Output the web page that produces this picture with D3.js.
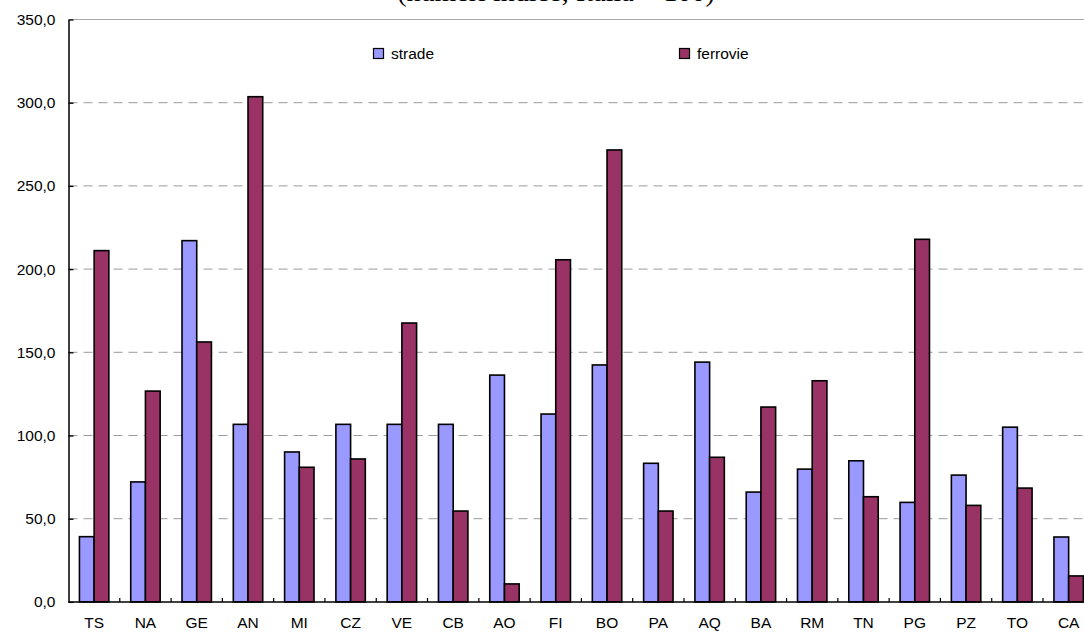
<!DOCTYPE html>
<html>
<head>
<meta charset="utf-8">
<script src="https://cdn.jsdelivr.net/npm/d3@7"></script>
<style>
  html, body { margin: 0; padding: 0; background: #fff; }
  svg { display: block; font-family: "Liberation Sans", Arial, sans-serif; }
</style>
</head>
<body>
<svg id="chart" width="1084" height="633"></svg>
<script>
// Province codes along the horizontal axis
const categories = ["TS","NA","GE","AN","MI","CZ","VE","CB","AO","FI","BO","PA","AQ","BA","RM","TN","PG","PZ","TO","CA"];
// Index values per series
const strade   = [39.2, 72.1, 217.1, 106.7, 90.1, 106.7, 106.7, 106.7, 136.3, 112.9, 142.4, 83.3, 144.1, 66.0, 79.8, 84.8, 59.8, 76.2, 105.0, 39.0];
const ferrovie = [211.1, 126.7, 156.2, 303.6, 80.9, 85.9, 167.6, 54.6, 10.8, 205.6, 271.6, 54.6, 86.9, 117.1, 132.9, 63.2, 217.9, 58.0, 68.4, 15.6];
const seriesNames = ["strade", "ferrovie"];
const seriesColors = ["#9999FF", "#993366"];
const yTicks = [0, 50, 100, 150, 200, 250, 300, 350];

const svg = d3.select("#chart");
const plotLeft = 68.5, plotTop = 19.5, plotBottom = 601.9;
const step = 51.29;
const plotRight = plotLeft + step * categories.length; // last band runs past the visible edge

const x0 = d3.scaleBand().domain(categories).range([plotLeft, plotRight]).padding(0);
const x1 = d3.scaleBand().domain(seriesNames).range([0, x0.bandwidth()])
  .paddingInner(0).paddingOuter(0.744);
const y = d3.scaleLinear().domain([0, 350]).range([plotBottom, plotTop]);

const fmt = v => d3.format(".1f")(v).replace(".", ",");

// Subtitle (partly above the page edge)
svg.append("text")
  .attr("x", 556).attr("y", 1)
  .attr("text-anchor", "middle")
  .attr("font-family", "'Liberation Serif', 'Times New Roman', serif")
  .attr("font-size", 28)
  .attr("fill", "#000")
  .text("(numeri indice; Italia = 100)");

// Horizontal gridlines
svg.append("g").selectAll("line")
  .data(yTicks.filter(t => t > 0 && t < 350))
  .join("line")
  .attr("x1", plotLeft).attr("x2", 1084)
  .attr("y1", d => y(d)).attr("y2", d => y(d))
  .attr("stroke", "#9a9a9a").attr("stroke-width", 1)
  .attr("stroke-dasharray", "9,6");

// Plot top border
svg.append("line")
  .attr("x1", plotLeft).attr("x2", 1084)
  .attr("y1", y(350)).attr("y2", y(350))
  .attr("stroke", "#a8a8a8").attr("stroke-width", 1.2);

// Bars
const rows = categories.map((c, i) => ({ cat: c, values: [strade[i], ferrovie[i]] }));
svg.append("g").selectAll("g")
  .data(rows)
  .join("g")
  .attr("transform", d => `translate(${x0(d.cat)},0)`)
  .selectAll("rect")
  .data(d => d.values.map((v, k) => ({ key: seriesNames[k], v, k })))
  .join("rect")
  .attr("x", d => x1(d.key))
  .attr("y", d => y(d.v))
  .attr("width", x1.bandwidth())
  .attr("height", d => y(0) - y(d.v))
  .attr("fill", d => seriesColors[d.k])
  .attr("stroke", "#000")
  .attr("stroke-width", 1.6);

// Y axis
const yAxis = d3.axisLeft(y).tickValues(yTicks).tickFormat(fmt).tickSizeInner(-5).tickSizeOuter(0).tickPadding(13);
const gy = svg.append("g").attr("transform", `translate(${plotLeft},0)`).call(yAxis);
gy.select(".domain").attr("stroke", "#000").attr("stroke-width", 1.5);
gy.selectAll(".tick line").attr("stroke", "#000").attr("stroke-width", 1.3);
gy.selectAll("text").attr("font-size", 15.5).attr("fill", "#000")
  .attr("font-family", "'Liberation Sans', Arial, sans-serif");

// X axis baseline and inner ticks between categories
svg.append("line")
  .attr("x1", plotLeft).attr("x2", 1084)
  .attr("y1", y(0)).attr("y2", y(0))
  .attr("stroke", "#000").attr("stroke-width", 1.5);
svg.append("g").selectAll("line")
  .data(categories.slice(1))
  .join("line")
  .attr("x1", d => x0(d)).attr("x2", d => x0(d))
  .attr("y1", y(0)).attr("y2", y(0) - 4)
  .attr("stroke", "#000").attr("stroke-width", 1.2);

// Category labels
svg.append("g").selectAll("text")
  .data(categories)
  .join("text")
  .attr("x", d => x0(d) + x0.bandwidth() / 2)
  .attr("y", 628)
  .attr("text-anchor", "middle")
  .attr("font-size", 15.5)
  .attr("fill", "#000")
  .text(d => d);

// Legend
const legendPos = [{ sx: 373.5, tx: 391 }, { sx: 679.5, tx: 697 }];
const lg = svg.append("g").selectAll("g")
  .data(seriesNames)
  .join("g");
lg.append("rect")
  .attr("x", (d, i) => legendPos[i].sx).attr("y", 48.5)
  .attr("width", 10).attr("height", 10)
  .attr("fill", (d, i) => seriesColors[i])
  .attr("stroke", "#000").attr("stroke-width", 1.2);
lg.append("text")
  .attr("x", (d, i) => legendPos[i].tx).attr("y", 58.5)
  .attr("font-size", 15.5)
  .attr("fill", "#000")
  .text(d => d);
</script>
</body>
</html>
